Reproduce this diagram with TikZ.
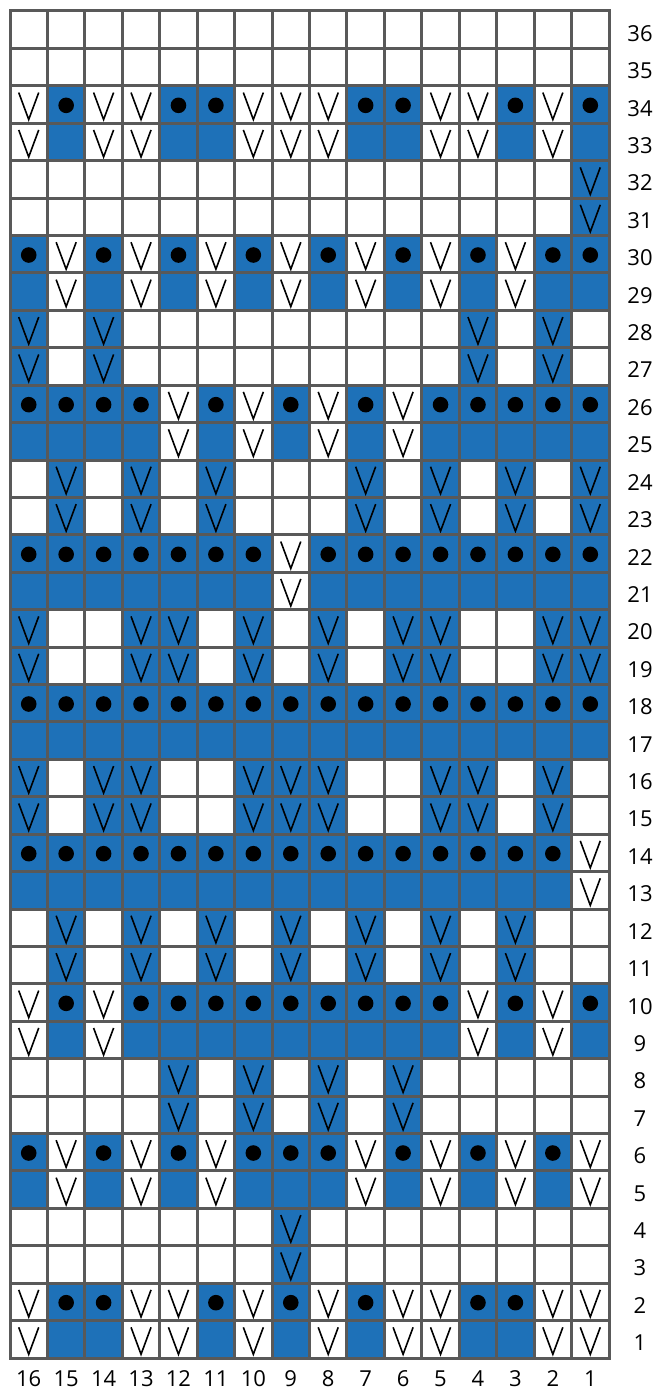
\documentclass[tikz,border=0pt]{standalone}
\usepackage{fontspec}
\setmainfont{Open Sans}
\definecolor{kblue}{HTML}{1E71B8}
\definecolor{kgray}{HTML}{595959}
\def\cw{37.4375}
\def\ch{37.4167}
% cell painters: use \cx, \cy (cell centre)
\newcommand\kcw{}
\newcommand\kcb{\fill[kblue] (\cx-\cw/2,\cy-\ch/2) rectangle (\cx+\cw/2,\cy+\ch/2);}
\newcommand\kcV{\draw[vmark] (\cx-10,\cy+12) -- (\cx,\cy-15) -- (\cx+10,\cy+12);}
\newcommand\kcU{\kcb\kcV}
\newcommand\kco{\kcb\fill[black] (\cx,\cy-0.8) circle (7.8);}
\tikzset{
  vmark/.style={draw=black,line width=1.6pt,line join=miter,miter limit=20},
  gridline/.style={draw=kgray,line width=3pt,line cap=rect},
  lbl/.style={font=\fontsize{22}{26}\selectfont,text=black,inner sep=0pt,anchor=base}
}
\begin{document}
\begin{tikzpicture}[x=1pt,y=1pt]
\useasboundingbox (0,0) rectangle (657,-1391);
\fill[white] (0,0) rectangle (657,-1391);
\foreach \r/\cells in {
36/{w,w,w,w,w,w,w,w,w,w,w,w,w,w,w,w},
35/{w,w,w,w,w,w,w,w,w,w,w,w,w,w,w,w},
34/{V,o,V,V,o,o,V,V,V,o,o,V,V,o,V,o},
33/{V,b,V,V,b,b,V,V,V,b,b,V,V,b,V,b},
32/{w,w,w,w,w,w,w,w,w,w,w,w,w,w,w,U},
31/{w,w,w,w,w,w,w,w,w,w,w,w,w,w,w,U},
30/{o,V,o,V,o,V,o,V,o,V,o,V,o,V,o,o},
29/{b,V,b,V,b,V,b,V,b,V,b,V,b,V,b,b},
28/{U,w,U,w,w,w,w,w,w,w,w,w,U,w,U,w},
27/{U,w,U,w,w,w,w,w,w,w,w,w,U,w,U,w},
26/{o,o,o,o,V,o,V,o,V,o,V,o,o,o,o,o},
25/{b,b,b,b,V,b,V,b,V,b,V,b,b,b,b,b},
24/{w,U,w,U,w,U,w,w,w,U,w,U,w,U,w,U},
23/{w,U,w,U,w,U,w,w,w,U,w,U,w,U,w,U},
22/{o,o,o,o,o,o,o,V,o,o,o,o,o,o,o,o},
21/{b,b,b,b,b,b,b,V,b,b,b,b,b,b,b,b},
20/{U,w,w,U,U,w,U,w,U,w,U,U,w,w,U,U},
19/{U,w,w,U,U,w,U,w,U,w,U,U,w,w,U,U},
18/{o,o,o,o,o,o,o,o,o,o,o,o,o,o,o,o},
17/{b,b,b,b,b,b,b,b,b,b,b,b,b,b,b,b},
16/{U,w,U,U,w,w,U,U,U,w,w,U,U,w,U,w},
15/{U,w,U,U,w,w,U,U,U,w,w,U,U,w,U,w},
14/{o,o,o,o,o,o,o,o,o,o,o,o,o,o,o,V},
13/{b,b,b,b,b,b,b,b,b,b,b,b,b,b,b,V},
12/{w,U,w,U,w,U,w,U,w,U,w,U,w,U,w,w},
11/{w,U,w,U,w,U,w,U,w,U,w,U,w,U,w,w},
10/{V,o,V,o,o,o,o,o,o,o,o,o,V,o,V,o},
9/{V,b,V,b,b,b,b,b,b,b,b,b,V,b,V,b},
8/{w,w,w,w,U,w,U,w,U,w,U,w,w,w,w,w},
7/{w,w,w,w,U,w,U,w,U,w,U,w,w,w,w,w},
6/{o,V,o,V,o,V,o,o,o,V,o,V,o,V,o,V},
5/{b,V,b,V,b,V,b,b,b,V,b,V,b,V,b,V},
4/{w,w,w,w,w,w,w,U,w,w,w,w,w,w,w,w},
3/{w,w,w,w,w,w,w,U,w,w,w,w,w,w,w,w},
2/{V,o,o,V,V,o,V,o,V,o,V,V,o,o,V,V},
1/{V,b,b,V,V,b,V,b,V,b,V,V,b,b,V,V}}{
  \foreach \t [count=\i] in \cells {
    \pgfmathsetmacro\cx{10+(\i-0.5)*\cw}
    \pgfmathsetmacro\cy{-(11+(36-\r+0.5)*\ch)}
    \csname kc\t\endcsname
  }
}
% grid
\foreach \i in {0,...,16}{
  \pgfmathsetmacro\gx{10+\i*\cw}
  \draw[gridline] (\gx,-11) -- (\gx,-1358);}
\foreach \j in {0,...,36}{
  \pgfmathsetmacro\gy{-11-\j*\ch}
  \draw[gridline] (10,\gy) -- (609,\gy);}
% row labels
\foreach \r in {1,...,36}{
  \pgfmathsetmacro\ly{-(11+(36-\r+0.5)*\ch)-11.5}
  \node[lbl] (r\r) at (640,\ly) {\r};
}
% column labels
\foreach \i in {1,...,16}{
  \pgfmathtruncatemacro\n{17-\i}
  \pgfmathsetmacro\lx{10+(\i-0.5)*\cw}
  \node[lbl] (c\n) at (\lx,-1386.5) {\n};
}
\end{tikzpicture}
\end{document}
